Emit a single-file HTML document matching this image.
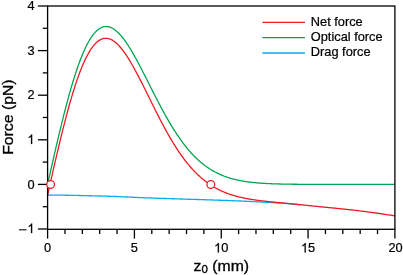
<!DOCTYPE html>
<html><head><meta charset="utf-8"><style>
html,body{margin:0;padding:0;background:#fff;}
svg{display:block;will-change:transform}
text{font-family:"Liberation Sans",sans-serif;fill:#000}
</style></head><body>
<svg width="403" height="275" viewBox="0 0 403 275">
<rect width="403" height="275" fill="#fff"/>
<g fill="none" stroke-width="1.3" stroke-linejoin="round">
<path d="M47.60,195.01 L48.47,195.02 L49.34,195.03 L50.20,195.03 L51.07,195.04 L51.94,195.05 L52.81,195.06 L53.68,195.07 L54.55,195.08 L55.41,195.09 L56.28,195.10 L57.15,195.11 L58.02,195.12 L58.89,195.13 L59.76,195.14 L60.62,195.15 L61.49,195.17 L62.36,195.18 L63.23,195.19 L64.10,195.21 L64.97,195.22 L65.83,195.23 L66.70,195.25 L67.57,195.26 L68.44,195.28 L69.31,195.29 L70.17,195.31 L71.04,195.33 L71.91,195.34 L72.78,195.36 L73.65,195.38 L74.52,195.39 L75.38,195.41 L76.25,195.43 L77.12,195.45 L77.99,195.47 L78.86,195.49 L79.73,195.51 L80.59,195.52 L81.46,195.54 L82.33,195.56 L83.20,195.58 L84.07,195.60 L84.93,195.62 L85.80,195.65 L86.67,195.67 L87.54,195.69 L88.41,195.71 L89.28,195.73 L90.14,195.75 L91.01,195.77 L91.88,195.80 L92.75,195.82 L93.62,195.84 L94.49,195.86 L95.35,195.89 L96.22,195.91 L97.09,195.93 L97.96,195.95 L98.83,195.98 L99.69,196.00 L100.56,196.02 L101.43,196.05 L102.30,196.07 L103.17,196.09 L104.04,196.12 L104.90,196.14 L105.77,196.16 L106.64,196.19 L107.51,196.21 L108.38,196.24 L109.25,196.27 L110.11,196.30 L110.98,196.33 L111.85,196.36 L112.72,196.39 L113.59,196.42 L114.46,196.45 L115.32,196.49 L116.19,196.52 L117.06,196.56 L117.93,196.59 L118.80,196.63 L119.66,196.67 L120.53,196.70 L121.40,196.74 L122.27,196.78 L123.14,196.82 L124.01,196.86 L124.87,196.90 L125.74,196.94 L126.61,196.98 L127.48,197.02 L128.35,197.06 L129.22,197.10 L130.08,197.14 L130.95,197.18 L131.82,197.22 L132.69,197.26 L133.56,197.30 L134.42,197.34 L135.29,197.38 L136.16,197.42 L137.03,197.46 L137.90,197.49 L138.77,197.53 L139.63,197.57 L140.50,197.61 L141.37,197.64 L142.24,197.68 L143.11,197.71 L143.98,197.75 L144.84,197.78 L145.71,197.81 L146.58,197.85 L147.45,197.88 L148.32,197.91 L149.19,197.94 L150.05,197.97 L150.92,198.01 L151.79,198.04 L152.66,198.07 L153.53,198.10 L154.39,198.13 L155.26,198.16 L156.13,198.19 L157.00,198.22 L157.87,198.25 L158.74,198.28 L159.60,198.31 L160.47,198.34 L161.34,198.37 L162.21,198.40 L163.08,198.43 L163.95,198.46 L164.81,198.49 L165.68,198.51 L166.55,198.54 L167.42,198.57 L168.29,198.60 L169.16,198.63 L170.02,198.65 L170.89,198.68 L171.76,198.71 L172.63,198.74 L173.50,198.77 L174.36,198.79 L175.23,198.82 L176.10,198.85 L176.97,198.88 L177.84,198.90 L178.71,198.93 L179.57,198.96 L180.44,198.98 L181.31,199.01 L182.18,199.04 L183.05,199.07 L183.92,199.09 L184.78,199.12 L185.65,199.15 L186.52,199.17 L187.39,199.20 L188.26,199.23 L189.12,199.25 L189.99,199.28 L190.86,199.31 L191.73,199.33 L192.60,199.36 L193.47,199.39 L194.33,199.42 L195.20,199.44 L196.07,199.47 L196.94,199.50 L197.81,199.52 L198.68,199.55 L199.54,199.58 L200.41,199.61 L201.28,199.63 L202.15,199.66 L203.02,199.69 L203.88,199.72 L204.75,199.74 L205.62,199.77 L206.49,199.80 L207.36,199.83 L208.23,199.86 L209.09,199.88 L209.96,199.91 L210.83,199.94 L211.70,199.97 L212.57,200.00 L213.44,200.03 L214.30,200.06 L215.17,200.09 L216.04,200.12 L216.91,200.15 L217.78,200.18 L218.65,200.20 L219.51,200.24 L220.38,200.27 L221.25,200.30 L222.12,200.33 L222.99,200.36 L223.85,200.39 L224.72,200.42 L225.59,200.45 L226.46,200.48 L227.33,200.51 L228.20,200.55 L229.06,200.58 L229.93,200.61 L230.80,200.64 L231.67,200.68 L232.54,200.71 L233.41,200.74 L234.27,200.78 L235.14,200.81 L236.01,200.85 L236.88,200.88 L237.75,200.92 L238.61,200.95 L239.48,200.99 L240.35,201.02 L241.22,201.06 L242.09,201.10 L242.96,201.13 L243.82,201.17 L244.69,201.21 L245.56,201.24 L246.43,201.28 L247.30,201.32 L248.17,201.36 L249.03,201.40 L249.90,201.44 L250.77,201.48 L251.64,201.52 L252.51,201.56 L253.38,201.60 L254.24,201.64 L255.11,201.68 L255.98,201.72 L256.85,201.77 L257.72,201.81 L258.58,201.85 L259.45,201.90 L260.32,201.94 L261.19,201.98 L262.06,202.03 L262.93,202.07 L263.79,202.12 L264.66,202.17 L265.53,202.21 L266.40,202.26 L267.27,202.31 L268.14,202.36 L269.00,202.41 L269.87,202.46 L270.74,202.51 L271.61,202.56 L272.48,202.61 L273.34,202.67 L274.21,202.72 L275.08,202.77 L275.95,202.83 L276.82,202.88 L277.69,202.94 L278.55,203.00 L279.42,203.05 L280.29,203.11 L281.16,203.17 L282.03,203.23 L282.90,203.29 L283.76,203.36 L284.63,203.42 L285.50,203.49 L286.37,203.56 L287.24,203.63 L288.11,203.70 L288.97,203.77 L289.84,203.84 L290.71,203.91 L291.58,203.99 L292.45,204.07 L293.31,204.14 L294.18,204.22 L295.05,204.30 L295.92,204.38 L296.79,204.46 L297.66,204.54 L298.52,204.62 L299.39,204.70 L300.26,204.78" stroke="#00aeef"/>
<path d="M47.60,184.40 L48.47,180.54 L49.34,176.68 L50.20,172.83 L51.07,168.98 L51.94,165.14 L52.81,161.32 L53.68,157.51 L54.55,153.72 L55.41,149.95 L56.28,146.20 L57.15,142.48 L58.02,138.78 L58.89,135.12 L59.76,131.48 L60.62,127.89 L61.49,124.32 L62.36,120.80 L63.23,117.32 L64.10,113.88 L64.97,110.48 L65.83,107.14 L66.70,103.84 L67.57,100.60 L68.44,97.40 L69.31,94.27 L70.17,91.19 L71.04,88.16 L71.91,85.20 L72.78,82.30 L73.65,79.46 L74.52,76.69 L75.38,73.99 L76.25,71.35 L77.12,68.78 L77.99,66.28 L78.86,63.85 L79.73,61.49 L80.59,59.21 L81.46,57.00 L82.33,54.86 L83.20,52.80 L84.07,50.82 L84.93,48.91 L85.80,47.08 L86.67,45.33 L87.54,43.65 L88.41,42.06 L89.28,40.54 L90.14,39.10 L91.01,37.75 L91.88,36.47 L92.75,35.27 L93.62,34.14 L94.49,33.10 L95.35,32.14 L96.22,31.25 L97.09,30.44 L97.96,29.71 L98.83,29.06 L99.69,28.48 L100.56,27.98 L101.43,27.55 L102.30,27.20 L103.17,26.92 L104.04,26.72 L104.90,26.58 L105.77,26.52 L106.64,26.53 L107.51,26.60 L108.38,26.75 L109.25,26.96 L110.11,27.23 L110.98,27.57 L111.85,27.98 L112.72,28.44 L113.59,28.97 L114.46,29.55 L115.32,30.19 L116.19,30.89 L117.06,31.65 L117.93,32.45 L118.80,33.31 L119.66,34.22 L120.53,35.18 L121.40,36.19 L122.27,37.24 L123.14,38.34 L124.01,39.48 L124.87,40.66 L125.74,41.88 L126.61,43.14 L127.48,44.43 L128.35,45.76 L129.22,47.13 L130.08,48.52 L130.95,49.95 L131.82,51.40 L132.69,52.89 L133.56,54.39 L134.42,55.93 L135.29,57.48 L136.16,59.06 L137.03,60.65 L137.90,62.26 L138.77,63.89 L139.63,65.54 L140.50,67.20 L141.37,68.87 L142.24,70.55 L143.11,72.24 L143.98,73.94 L144.84,75.65 L145.71,77.36 L146.58,79.08 L147.45,80.80 L148.32,82.52 L149.19,84.25 L150.05,85.97 L150.92,87.69 L151.79,89.41 L152.66,91.13 L153.53,92.84 L154.39,94.54 L155.26,96.24 L156.13,97.93 L157.00,99.62 L157.87,101.29 L158.74,102.95 L159.60,104.61 L160.47,106.25 L161.34,107.88 L162.21,109.49 L163.08,111.10 L163.95,112.68 L164.81,114.26 L165.68,115.81 L166.55,117.35 L167.42,118.88 L168.29,120.38 L169.16,121.87 L170.02,123.35 L170.89,124.80 L171.76,126.23 L172.63,127.65 L173.50,129.04 L174.36,130.42 L175.23,131.77 L176.10,133.11 L176.97,134.42 L177.84,135.71 L178.71,136.99 L179.57,138.24 L180.44,139.47 L181.31,140.68 L182.18,141.87 L183.05,143.03 L183.92,144.18 L184.78,145.30 L185.65,146.40 L186.52,147.48 L187.39,148.54 L188.26,149.58 L189.12,150.59 L189.99,151.59 L190.86,152.56 L191.73,153.52 L192.60,154.45 L193.47,155.36 L194.33,156.25 L195.20,157.12 L196.07,157.97 L196.94,158.80 L197.81,159.61 L198.68,160.40 L199.54,161.17 L200.41,161.93 L201.28,162.66 L202.15,163.38 L203.02,164.07 L203.88,164.75 L204.75,165.41 L205.62,166.05 L206.49,166.68 L207.36,167.29 L208.23,167.88 L209.09,168.46 L209.96,169.01 L210.83,169.56 L211.70,170.08 L212.57,170.60 L213.44,171.09 L214.30,171.58 L215.17,172.04 L216.04,172.50 L216.91,172.94 L217.78,173.37 L218.65,173.78 L219.51,174.18 L220.38,174.57 L221.25,174.94 L222.12,175.30 L222.99,175.66 L223.85,176.00 L224.72,176.32 L225.59,176.64 L226.46,176.95 L227.33,177.25 L228.20,177.53 L229.06,177.81 L229.93,178.08 L230.80,178.33 L231.67,178.58 L232.54,178.82 L233.41,179.05 L234.27,179.28 L235.14,179.49 L236.01,179.70 L236.88,179.90 L237.75,180.09 L238.61,180.27 L239.48,180.45 L240.35,180.62 L241.22,180.79 L242.09,180.94 L242.96,181.10 L243.82,181.24 L244.69,181.38 L245.56,181.52 L246.43,181.65 L247.30,181.77 L248.17,181.89 L249.03,182.00 L249.90,182.11 L250.77,182.22 L251.64,182.32 L252.51,182.42 L253.38,182.51 L254.24,182.60 L255.11,182.68 L255.98,182.76 L256.85,182.84 L257.72,182.92 L258.58,182.99 L259.45,183.06 L260.32,183.12 L261.19,183.18 L262.06,183.24 L262.93,183.30 L263.79,183.35 L264.66,183.41 L265.53,183.46 L266.40,183.50 L267.27,183.55 L268.14,183.59 L269.00,183.63 L269.87,183.67 L270.74,183.71 L271.61,183.74 L272.48,183.78 L273.34,183.81 L274.21,183.84 L275.08,183.87 L275.95,183.90 L276.82,183.92 L277.69,183.95 L278.55,183.97 L279.42,184.00 L280.29,184.02 L281.16,184.04 L282.03,184.06 L282.90,184.08 L283.76,184.09 L284.63,184.11 L285.50,184.13 L286.37,184.14 L287.24,184.16 L288.11,184.17 L288.97,184.18 L289.84,184.20 L290.71,184.21 L291.58,184.22 L292.45,184.23 L293.31,184.24 L294.18,184.25 L295.05,184.26 L295.92,184.26 L296.79,184.27 L297.66,184.28 L298.52,184.29 L299.39,184.29 L300.26,184.30 L301.13,184.31 L302.00,184.31 L302.87,184.32 L303.73,184.32 L304.60,184.33 L305.47,184.33 L306.34,184.33 L307.21,184.34 L308.07,184.34 L308.94,184.35 L309.81,184.35 L310.68,184.35 L311.55,184.36 L312.42,184.36 L313.28,184.36 L314.15,184.36 L315.02,184.37 L315.89,184.37 L316.76,184.37 L317.63,184.37 L318.49,184.37 L319.36,184.37 L320.23,184.38 L321.10,184.38 L321.97,184.38 L322.84,184.38 L323.70,184.38 L324.57,184.38 L325.44,184.38 L326.31,184.39 L327.18,184.39 L328.04,184.39 L328.91,184.39 L329.78,184.39 L330.65,184.39 L331.52,184.39 L332.39,184.39 L333.25,184.39 L334.12,184.39 L334.99,184.39 L335.86,184.39 L336.73,184.39 L337.60,184.39 L338.46,184.39 L339.33,184.39 L340.20,184.40 L341.07,184.40 L341.94,184.40 L342.81,184.40 L343.67,184.40 L344.54,184.40 L345.41,184.40 L346.28,184.40 L347.15,184.40 L348.01,184.40 L348.88,184.40 L349.75,184.40 L350.62,184.40 L351.49,184.40 L352.36,184.40 L353.22,184.40 L354.09,184.40 L354.96,184.40 L355.83,184.40 L356.70,184.40 L357.57,184.40 L358.43,184.40 L359.30,184.40 L360.17,184.40 L361.04,184.40 L361.91,184.40 L362.77,184.40 L363.64,184.40 L364.51,184.40 L365.38,184.40 L366.25,184.40 L367.12,184.40 L367.98,184.40 L368.85,184.40 L369.72,184.40 L370.59,184.40 L371.46,184.40 L372.33,184.40 L373.19,184.40 L374.06,184.40 L374.93,184.40 L375.80,184.40 L376.67,184.40 L377.53,184.40 L378.40,184.40 L379.27,184.40 L380.14,184.40 L381.01,184.40 L381.88,184.40 L382.74,184.40 L383.61,184.40 L384.48,184.40 L385.35,184.40 L386.22,184.40 L387.09,184.40 L387.95,184.40 L388.82,184.40 L389.69,184.40 L390.56,184.40 L391.43,184.40 L392.30,184.40 L393.16,184.40 L394.03,184.40 L394.90,184.40" stroke="#00a651"/>
<path d="M47.60,195.01 L48.47,191.16 L49.34,187.31 L50.20,183.46 L51.07,179.62 L51.94,175.79 L52.81,171.98 L53.68,168.18 L54.55,164.40 L55.41,160.64 L56.28,156.90 L57.15,153.19 L58.02,149.50 L58.89,145.85 L59.76,142.23 L60.62,138.64 L61.49,135.09 L62.36,131.58 L63.23,128.11 L64.10,124.68 L64.97,121.30 L65.83,117.97 L66.70,114.69 L67.57,111.46 L68.44,108.28 L69.31,105.16 L70.17,102.10 L71.04,99.09 L71.91,96.14 L72.78,93.26 L73.65,90.44 L74.52,87.69 L75.38,85.00 L76.25,82.38 L77.12,79.83 L77.99,77.34 L78.86,74.93 L79.73,72.60 L80.59,70.33 L81.46,68.14 L82.33,66.02 L83.20,63.98 L84.07,62.02 L84.93,60.13 L85.80,58.32 L86.67,56.59 L87.54,54.94 L88.41,53.37 L89.28,51.87 L90.14,50.46 L91.01,49.12 L91.88,47.86 L92.75,46.68 L93.62,45.59 L94.49,44.56 L95.35,43.62 L96.22,42.76 L97.09,41.97 L97.96,41.27 L98.83,40.64 L99.69,40.08 L100.56,39.60 L101.43,39.20 L102.30,38.87 L103.17,38.62 L104.04,38.44 L104.90,38.33 L105.77,38.29 L106.64,38.32 L107.51,38.42 L108.38,38.59 L109.25,38.83 L110.11,39.13 L110.98,39.50 L111.85,39.93 L112.72,40.43 L113.59,40.99 L114.46,41.60 L115.32,42.28 L116.19,43.01 L117.06,43.80 L117.93,44.65 L118.80,45.54 L119.66,46.49 L120.53,47.49 L121.40,48.53 L122.27,49.62 L123.14,50.76 L124.01,51.93 L124.87,53.16 L125.74,54.42 L126.61,55.71 L127.48,57.05 L128.35,58.42 L129.22,59.82 L130.08,61.26 L130.95,62.73 L131.82,64.22 L132.69,65.74 L133.56,67.29 L134.42,68.86 L135.29,70.46 L136.16,72.07 L137.03,73.71 L137.90,75.36 L138.77,77.02 L139.63,78.71 L140.50,80.40 L141.37,82.11 L142.24,83.83 L143.11,85.55 L143.98,87.29 L144.84,89.03 L145.71,90.78 L146.58,92.53 L147.45,94.28 L148.32,96.03 L149.19,97.79 L150.05,99.54 L150.92,101.30 L151.79,103.05 L152.66,104.79 L153.53,106.54 L154.39,108.27 L155.26,110.00 L156.13,111.72 L157.00,113.44 L157.87,115.14 L158.74,116.84 L159.60,118.52 L160.47,120.19 L161.34,121.85 L162.21,123.49 L163.08,125.12 L163.95,126.74 L164.81,128.34 L165.68,129.93 L166.55,131.50 L167.42,133.05 L168.29,134.58 L169.16,136.10 L170.02,137.60 L170.89,139.08 L171.76,140.54 L172.63,141.98 L173.50,143.41 L174.36,144.81 L175.23,146.19 L176.10,147.56 L176.97,148.90 L177.84,150.22 L178.71,151.52 L179.57,152.80 L180.44,154.05 L181.31,155.29 L182.18,156.50 L183.05,157.70 L183.92,158.87 L184.78,160.02 L185.65,161.15 L186.52,162.25 L187.39,163.34 L188.26,164.40 L189.12,165.45 L189.99,166.47 L190.86,167.47 L191.73,168.45 L192.60,169.41 L193.47,170.35 L194.33,171.27 L195.20,172.16 L196.07,173.04 L196.94,173.90 L197.81,174.74 L198.68,175.55 L199.54,176.35 L200.41,177.13 L201.28,177.89 L202.15,178.64 L203.02,179.36 L203.88,180.07 L204.75,180.75 L205.62,181.43 L206.49,182.08 L207.36,182.72 L208.23,183.34 L209.09,183.94 L209.96,184.53 L210.83,185.10 L211.70,185.65 L212.57,186.20 L213.44,186.72 L214.30,187.23 L215.17,187.73 L216.04,188.21 L216.91,188.68 L217.78,189.14 L218.65,189.58 L219.51,190.01 L220.38,190.43 L221.25,190.84 L222.12,191.23 L222.99,191.61 L223.85,191.98 L224.72,192.34 L225.59,192.69 L226.46,193.03 L227.33,193.36 L228.20,193.68 L229.06,193.99 L229.93,194.29 L230.80,194.58 L231.67,194.86 L232.54,195.13 L233.41,195.40 L234.27,195.65 L235.14,195.90 L236.01,196.14 L236.88,196.38 L237.75,196.60 L238.61,196.82 L239.48,197.04 L240.35,197.24 L241.22,197.44 L242.09,197.64 L242.96,197.83 L243.82,198.01 L244.69,198.19 L245.56,198.36 L246.43,198.53 L247.30,198.69 L248.17,198.85 L249.03,199.00 L249.90,199.15 L250.77,199.30 L251.64,199.44 L252.51,199.57 L253.38,199.71 L254.24,199.84 L255.11,199.96 L255.98,200.09 L256.85,200.21 L257.72,200.32 L258.58,200.44 L259.45,200.55 L260.32,200.66 L261.19,200.77 L262.06,200.87 L262.93,200.97 L263.79,201.08 L264.66,201.17 L265.53,201.27 L266.40,201.37 L267.27,201.46 L268.14,201.55 L269.00,201.64 L269.87,201.73 L270.74,201.82 L271.61,201.91 L272.48,201.99 L273.34,202.08 L274.21,202.16 L275.08,202.24 L275.95,202.33 L276.82,202.41 L277.69,202.49 L278.55,202.57 L279.42,202.65 L280.29,202.73 L281.16,202.81 L282.03,202.89 L282.90,202.97 L283.76,203.05 L284.63,203.13 L285.50,203.22 L286.37,203.30 L287.24,203.38 L288.11,203.47 L288.97,203.55 L289.84,203.64 L290.71,203.72 L291.58,203.81 L292.45,203.89 L293.31,203.98 L294.18,204.07 L295.05,204.15 L295.92,204.24 L296.79,204.33 L297.66,204.42 L298.52,204.51 L299.39,204.59 L300.26,204.68 L301.13,204.77 L302.00,204.86 L302.87,204.95 L303.73,205.04 L304.60,205.13 L305.47,205.22 L306.34,205.31 L307.21,205.40 L308.07,205.49 L308.94,205.58 L309.81,205.67 L310.68,205.76 L311.55,205.85 L312.42,205.94 L313.28,206.03 L314.15,206.12 L315.02,206.20 L315.89,206.29 L316.76,206.38 L317.63,206.47 L318.49,206.55 L319.36,206.64 L320.23,206.73 L321.10,206.81 L321.97,206.90 L322.84,206.98 L323.70,207.07 L324.57,207.16 L325.44,207.24 L326.31,207.33 L327.18,207.41 L328.04,207.50 L328.91,207.58 L329.78,207.67 L330.65,207.75 L331.52,207.84 L332.39,207.93 L333.25,208.01 L334.12,208.10 L334.99,208.19 L335.86,208.27 L336.73,208.36 L337.60,208.45 L338.46,208.54 L339.33,208.63 L340.20,208.72 L341.07,208.81 L341.94,208.90 L342.81,208.99 L343.67,209.08 L344.54,209.17 L345.41,209.26 L346.28,209.35 L347.15,209.45 L348.01,209.54 L348.88,209.64 L349.75,209.73 L350.62,209.83 L351.49,209.92 L352.36,210.02 L353.22,210.12 L354.09,210.22 L354.96,210.32 L355.83,210.42 L356.70,210.52 L357.57,210.62 L358.43,210.72 L359.30,210.83 L360.17,210.93 L361.04,211.04 L361.91,211.15 L362.77,211.25 L363.64,211.36 L364.51,211.47 L365.38,211.59 L366.25,211.70 L367.12,211.81 L367.98,211.93 L368.85,212.04 L369.72,212.16 L370.59,212.27 L371.46,212.39 L372.33,212.51 L373.19,212.63 L374.06,212.75 L374.93,212.87 L375.80,213.00 L376.67,213.12 L377.53,213.24 L378.40,213.37 L379.27,213.49 L380.14,213.62 L381.01,213.75 L381.88,213.88 L382.74,214.01 L383.61,214.14 L384.48,214.27 L385.35,214.40 L386.22,214.53 L387.09,214.66 L387.95,214.80 L388.82,214.93 L389.69,215.06 L390.56,215.20 L391.43,215.34 L392.30,215.47 L393.16,215.61 L394.03,215.75 L394.90,215.89" stroke="#ed1c24"/>
</g>
<g stroke="#000" stroke-width="1.3" fill="none">
<rect x="47.6" y="6.0" width="347.30" height="223.30"/>
<line x1="47.60" y1="229.3" x2="47.60" y2="238.60000000000002"/><line x1="64.97" y1="229.3" x2="64.97" y2="234.10000000000002"/><line x1="82.33" y1="229.3" x2="82.33" y2="234.10000000000002"/><line x1="99.69" y1="229.3" x2="99.69" y2="234.10000000000002"/><line x1="117.06" y1="229.3" x2="117.06" y2="234.10000000000002"/><line x1="134.42" y1="229.3" x2="134.42" y2="238.60000000000002"/><line x1="151.79" y1="229.3" x2="151.79" y2="234.10000000000002"/><line x1="169.16" y1="229.3" x2="169.16" y2="234.10000000000002"/><line x1="186.52" y1="229.3" x2="186.52" y2="234.10000000000002"/><line x1="203.88" y1="229.3" x2="203.88" y2="234.10000000000002"/><line x1="221.25" y1="229.3" x2="221.25" y2="238.60000000000002"/><line x1="238.61" y1="229.3" x2="238.61" y2="234.10000000000002"/><line x1="255.98" y1="229.3" x2="255.98" y2="234.10000000000002"/><line x1="273.34" y1="229.3" x2="273.34" y2="234.10000000000002"/><line x1="290.71" y1="229.3" x2="290.71" y2="234.10000000000002"/><line x1="308.07" y1="229.3" x2="308.07" y2="238.60000000000002"/><line x1="325.44" y1="229.3" x2="325.44" y2="234.10000000000002"/><line x1="342.81" y1="229.3" x2="342.81" y2="234.10000000000002"/><line x1="360.17" y1="229.3" x2="360.17" y2="234.10000000000002"/><line x1="377.53" y1="229.3" x2="377.53" y2="234.10000000000002"/><line x1="394.90" y1="229.3" x2="394.90" y2="238.60000000000002"/><line x1="37.90" y1="229.00" x2="47.6" y2="229.00"/><line x1="42.80" y1="206.70" x2="47.6" y2="206.70"/><line x1="37.90" y1="184.40" x2="47.6" y2="184.40"/><line x1="42.80" y1="162.10" x2="47.6" y2="162.10"/><line x1="37.90" y1="139.80" x2="47.6" y2="139.80"/><line x1="42.80" y1="117.50" x2="47.6" y2="117.50"/><line x1="37.90" y1="95.20" x2="47.6" y2="95.20"/><line x1="42.80" y1="72.90" x2="47.6" y2="72.90"/><line x1="37.90" y1="50.60" x2="47.6" y2="50.60"/><line x1="42.80" y1="28.30" x2="47.6" y2="28.30"/><line x1="37.90" y1="6.00" x2="47.6" y2="6.00"/>
</g>
<g fill="#fff" stroke="#ed1c24" stroke-width="1.3">
<circle cx="50.6" cy="184.5" r="3.9"/>
<circle cx="210.8" cy="184.5" r="3.9"/>
</g>
<g font-size="12.8" stroke="#000" stroke-width="0.22">
<path transform="translate(27.38,233.00) scale(0.006250,-0.006438)" d="M763,0L583,0L583,1147Q518,1085 412.5,1023Q307,961 223,930L223,1104Q374,1175 487,1276Q600,1377 647,1472L763,1472Z" fill="#000" stroke="#000" stroke-width="35.2"/><line x1="19.0" x2="26.5" y1="229.80" y2="229.80" stroke="#000" stroke-width="1.05"/><text transform="translate(27.38,188.60) scale(1,1.03)">0</text><path transform="translate(27.38,144.00) scale(0.006250,-0.006438)" d="M763,0L583,0L583,1147Q518,1085 412.5,1023Q307,961 223,930L223,1104Q374,1175 487,1276Q600,1377 647,1472L763,1472Z" fill="#000" stroke="#000" stroke-width="35.2"/><text transform="translate(27.38,99.40) scale(1,1.03)">2</text><text transform="translate(27.38,54.80) scale(1,1.03)">3</text><text transform="translate(27.38,10.20) scale(1,1.03)">4</text><text transform="translate(44.04,252.45) scale(1,1.03)">0</text><text transform="translate(130.87,252.45) scale(1,1.03)">5</text><path transform="translate(214.13,252.45) scale(0.006250,-0.006438)" d="M763,0L583,0L583,1147Q518,1085 412.5,1023Q307,961 223,930L223,1104Q374,1175 487,1276Q600,1377 647,1472L763,1472Z" fill="#000" stroke="#000" stroke-width="35.2"/><text transform="translate(221.25,252.45) scale(1,1.03)">0</text><path transform="translate(300.96,252.45) scale(0.006250,-0.006438)" d="M763,0L583,0L583,1147Q518,1085 412.5,1023Q307,961 223,930L223,1104Q374,1175 487,1276Q600,1377 647,1472L763,1472Z" fill="#000" stroke="#000" stroke-width="35.2"/><text transform="translate(308.08,252.45) scale(1,1.03)">5</text><text transform="translate(388.38,252.45) scale(1,1.03)">2</text><text transform="translate(395.50,252.45) scale(1,1.03)">0</text>
</g>
<g stroke-width="1.3">
<line x1="262.4" x2="305.0" y1="22.4" y2="22.4" stroke="#ed1c24"/>
<line x1="262.4" x2="305.0" y1="37.6" y2="37.6" stroke="#00a651"/>
<line x1="262.4" x2="305.0" y1="53.0" y2="53.0" stroke="#00aeef"/>
</g>
<g font-size="12.8" stroke="#000" stroke-width="0.22">
<text transform="translate(310.80,25.60) scale(1,1.03)" text-anchor="start">Net force</text>
<text transform="translate(310.80,40.90) scale(1,1.03)" text-anchor="start">Optical force</text>
<text transform="translate(310.80,56.20) scale(1,1.03)" text-anchor="start">Drag force</text>
</g>
<g stroke="#000" stroke-width="0.35">
<text font-size="15.8" transform="translate(221.3,271.1) scale(1,0.97)" text-anchor="middle">z<tspan font-size="11.5" dy="2.2">0</tspan><tspan dy="-2.2"> (mm)</tspan></text>
<text font-size="15.8" transform="translate(12.6,117.1) rotate(-90) scale(1,0.93)" text-anchor="middle">Force (pN)</text>
</g>
</svg>
</body></html>
